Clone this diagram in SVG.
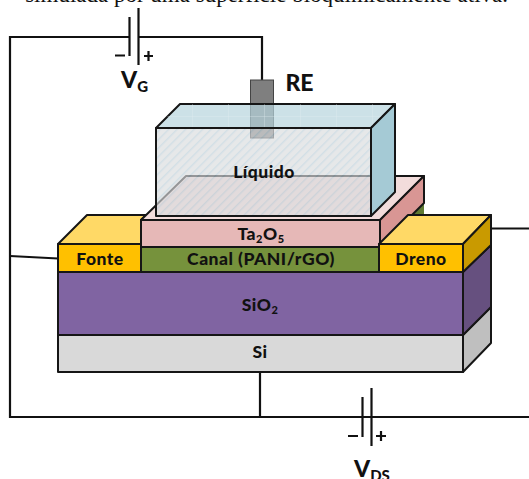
<svg xmlns="http://www.w3.org/2000/svg" width="529" height="479" viewBox="0 0 529 479">
<style>
text{font-family:Lato,"Liberation Sans",sans-serif;font-weight:900;fill:#111;text-anchor:middle}
.l{font-size:17.500px;letter-spacing:.5px}
.b{stroke:#161616;stroke-width:2;stroke-linejoin:round}
.w{fill:none;stroke:#111;stroke-width:2.2}
</style>
<defs>
<pattern id="h" width="6" height="6" patternUnits="userSpaceOnUse" patternTransform="rotate(45)">
<rect width="6" height="6" fill="#d9dbdd"/><rect width="1.400" height="6" fill="#b9ced8"/>
</pattern>
<pattern id="g" width="36" height="36" patternUnits="userSpaceOnUse" x="12" y="8">
<path d="M0 0H36M0 0V36" fill="none" stroke="#e4eef2" stroke-opacity=".6" stroke-width="1"/>
</pattern>
</defs>
<text x="508" y="2" style="font-family:'Liberation Serif',serif;font-weight:400;font-size:23px;text-anchor:end">simulada por uma superfície bioquimicamente ativa.</text>
<g id="connectors">
<path class="w" d="M129 37H10V417H529M139 37H262V80"/>
<path class="w" d="M10 256L58 258.500M491 228.500H529M260 372V417"/>
<path class="w" d="M129.500 17V56M138.500 8V65M362.500 397V437M371.500 388V446"/>
<path class="w" d="M115 55.500H125M144 56H153M148.500 51V61M348 436H358M376 436H386M381 431V441"/>
</g>
<g id="si"><path class="b" fill="#d9d9d9" d="M58 335H463V372H58Z"/><path class="b" fill="#bfbfbf" d="M463 335L491 307V343L463 372Z"/><text class="l" x="260" y="358">Si</text></g>
<g id="sio2"><path class="b" fill="#8064a2" d="M58 272H463V335H58Z"/><path class="b" fill="#66507f" d="M463 272L491 245V307L463 335Z"/><text class="l" x="260" y="311">SiO<tspan font-size="11" dy="3">2</tspan></text></g>
<g id="canal"><path fill="#5f7a32" d="M412 216L424 203V216Z"/><path class="b" fill="#76923c" d="M141 247H379V272H141Z"/><text class="l" x="261" y="265">Canal (PANI/rGO)</text></g>
<g id="fonte"><path class="b" fill="#ffd966" d="M58 244L87 215H146L141 220V244Z"/><path class="b" fill="#ffc000" d="M58 244H141V272H58Z"/><text class="l" x="100" y="265">Fonte</text></g>
<g id="ta2o5"><path class="b" fill="#f2dcdb" d="M141 220L186 176H424L380 220Z"/><path class="b" fill="#d99694" d="M380 220L424 176V203L380 247Z"/><path class="b" fill="#e6b8b7" d="M141 220H380V247H141Z"/><text class="l" x="261" y="240">Ta<tspan font-size="11" dy="3">2</tspan><tspan dy="-3">O</tspan><tspan font-size="11" dy="3">5</tspan></text></g>
<g id="dreno"><path class="b" fill="#ffd966" d="M379 244L408 215H491L463 244Z"/><path class="b" fill="#c99a00" d="M463 244L491 215V245L463 272Z"/><path class="b" fill="#ffc000" d="M379 244H463V272H379Z"/><text class="l" x="421" y="265">Dreno</text></g>
<g id="re"><rect x="250.500" y="80" width="23" height="58" fill="#7f7f7f" stroke="#444" stroke-width="1"/><text x="299.500" y="91" font-size="23">RE</text></g>
<g id="liquido">
<path fill="#b7d4dd" fill-opacity=".7" class="b" d="M156 128L180 104H395L371 128Z"/>
<path fill="url(#g)" d="M156 128L180 104H395L371 128Z"/>
<path fill="#a5cad5" class="b" d="M371 128L395 104V192L371 216Z"/>
<path fill="url(#h)" fill-opacity=".65" d="M156 128H371V216H156Z"/>
<rect x="156" y="128" width="215" height="88" fill="none" class="b"/>
<text class="l" x="264" y="178">Líquido</text>
</g>
<g id="labels">
<text x="121" y="88" font-size="23" style="text-anchor:start">V<tspan font-size="15" dy="4">G</tspan></text>
<text x="354" y="477" font-size="23" style="text-anchor:start">V<tspan font-size="15" dy="4">DS</tspan></text>
</g>
</svg>
